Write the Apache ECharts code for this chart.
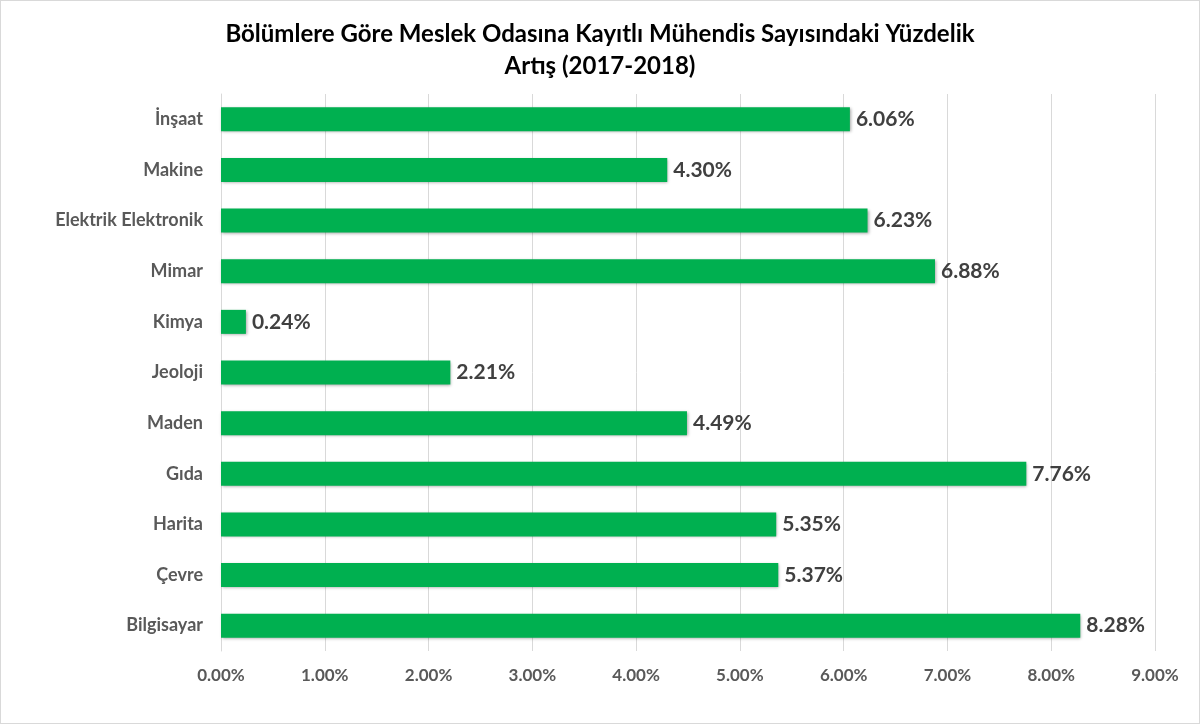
<!DOCTYPE html>
<html style="height: 100%">
<head>
	<meta charset="utf-8">
</head>
<body style="height: 100%; margin: 0">
<div id="container" style="height: 100%; box-sizing: border-box; border: 1px solid #d9d9d9"></div>
<script type="text/javascript" src="https://cdn.jsdelivr.net/npm/echarts@6/dist/echarts.min.js"></script>
<script type="text/javascript">
    var categories = ['İnşaat', 'Makine', 'Elektrik Elektronik', 'Mimar', 'Kimya', 'Jeoloji', 'Maden', 'Gıda', 'Harita', 'Çevre', 'Bilgisayar'];
    var values = [6.06, 4.30, 6.23, 6.88, 0.24, 2.21, 4.49, 7.76, 5.35, 5.37, 8.28];
    var xTicks = [0, 1, 2, 3, 4, 5, 6, 7, 8, 9];

    var myChart = echarts.init(document.getElementById('container'));
    var font = 'Lato';
    var option = {
        backgroundColor: '#fff',
        title: {
            text: 'Bölümlere Göre Meslek Odasına Kayıtlı Mühendis Sayısındaki Yüzdelik\nArtış (2017-2018)',
            left: 'center',
            top: 12,
            textStyle: {fontFamily: font, fontSize: 24, fontWeight: 'bold', color: '#000', lineHeight: 32}
        },
        grid: {left: 220, right: 44, top: 93, bottom: 72},
        xAxis: {
            type: 'value',
            min: xTicks[0],
            max: xTicks[xTicks.length - 1],
            interval: 1,
            axisLine: {show: false},
            axisTick: {show: false},
            splitLine: {lineStyle: {color: '#d9d9d9'}},
            axisLabel: {
                margin: 16,
                fontFamily: font, fontSize: 17, fontWeight: 'bold', color: '#595959',
                formatter: function (v) { return v.toFixed(2) + '%'; }
            }
        },
        yAxis: {
            type: 'category',
            data: categories,
            inverse: true,
            axisLine: {lineStyle: {color: '#d9d9d9'}},
            axisTick: {show: false},
            axisLabel: {margin: 18, fontFamily: font, fontSize: 18, fontWeight: 'bold', color: '#595959'}
        },
        series: [{
            type: 'bar',
            data: values,
            barWidth: 24,
            itemStyle: {
                color: '#00b050',
                shadowColor: 'rgba(0,0,0,0.35)',
                shadowBlur: 3,
                shadowOffsetX: 1,
                shadowOffsetY: 1
            },
            label: {
                show: true,
                position: 'right',
                distance: 6,
                fontFamily: font, fontSize: 21, fontWeight: 'bold', color: '#404040',
                formatter: function (p) { return p.value.toFixed(2) + '%'; }
            }
        }]
    };
    myChart.setOption(option);
</script>
</body>
</html>
